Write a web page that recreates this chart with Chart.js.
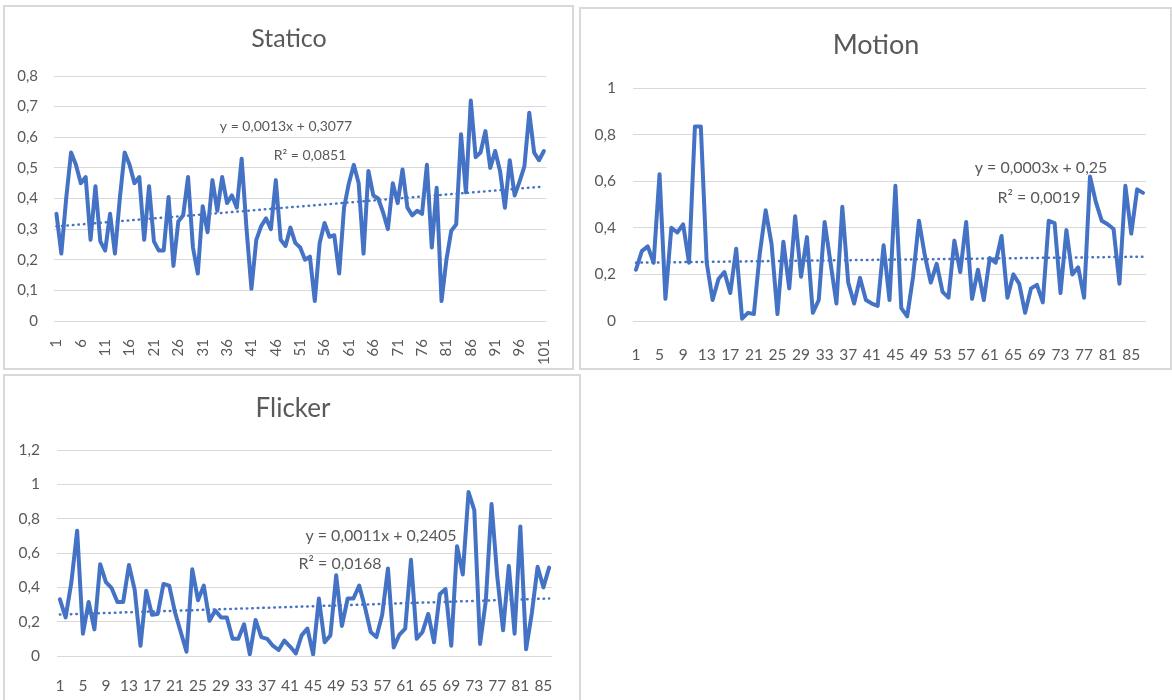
<!DOCTYPE html>
<html>
<head>
<meta charset="utf-8">
<script src="https://cdn.jsdelivr.net/npm/chart.js@4.4.1/dist/chart.umd.min.js"></script>
<style>
  html, body { margin: 0; padding: 0; background: #ffffff; width: 1172px; height: 700px; overflow: hidden; }
  .panel { position: absolute; box-sizing: border-box; border: 2px solid #d9d9d9; background: #ffffff; }
  .panel canvas { display: block; }
</style>
</head>
<body>
<div class="panel" style="left:3px; top:5px; width:571px; height:365px;"><canvas id="chartStatico" width="567" height="361"></canvas></div>
<div class="panel" style="left:579px; top:7px; width:593px; height:363px;"><canvas id="chartMotion" width="589" height="359"></canvas></div>
<div class="panel" style="left:3px; top:374px; width:578px; height:330px;"><canvas id="chartFlicker" width="574" height="326"></canvas></div>
<script>
// ---- Series values ----
const staticoValues = [
  0.35, 0.22, 0.40, 0.55, 0.51, 0.45, 0.47, 0.265, 0.44, 0.26,
  0.23, 0.35, 0.22, 0.40, 0.55, 0.51, 0.45, 0.47, 0.265, 0.44,
  0.26, 0.23, 0.23, 0.405, 0.18, 0.325, 0.345, 0.47, 0.24, 0.155,
  0.375, 0.29, 0.46, 0.36, 0.47, 0.385, 0.41, 0.37, 0.53, 0.30,
  0.105, 0.265, 0.31, 0.335, 0.30, 0.46, 0.265, 0.245, 0.305, 0.255,
  0.24, 0.20, 0.21, 0.065, 0.255, 0.32, 0.275, 0.28, 0.155, 0.37,
  0.45, 0.51, 0.45, 0.22, 0.49, 0.41, 0.40, 0.355, 0.30, 0.45,
  0.385, 0.495, 0.37, 0.345, 0.36, 0.35, 0.51, 0.24, 0.435, 0.065,
  0.20, 0.295, 0.315, 0.61, 0.42, 0.72, 0.535, 0.55, 0.62, 0.50,
  0.555, 0.49, 0.37, 0.525, 0.41, 0.455, 0.505, 0.68, 0.55, 0.525,
  0.555
];
const motionValues = [
  0.22, 0.30, 0.32, 0.25, 0.63, 0.095, 0.40, 0.38, 0.415, 0.25,
  0.835, 0.835, 0.25, 0.09, 0.18, 0.21, 0.12, 0.31, 0.01, 0.035,
  0.03, 0.29, 0.475, 0.33, 0.03, 0.34, 0.14, 0.45, 0.19, 0.36,
  0.035, 0.09, 0.425, 0.25, 0.075, 0.49, 0.165, 0.075, 0.185, 0.09,
  0.075, 0.065, 0.325, 0.09, 0.58, 0.055, 0.02, 0.19, 0.43, 0.28,
  0.165, 0.245, 0.125, 0.10, 0.345, 0.21, 0.425, 0.095, 0.22, 0.09,
  0.27, 0.25, 0.365, 0.10, 0.20, 0.16, 0.035, 0.14, 0.155, 0.08,
  0.43, 0.42, 0.12, 0.39, 0.20, 0.23, 0.10, 0.62, 0.51, 0.43,
  0.415, 0.395, 0.16, 0.58, 0.375, 0.565, 0.55
];
const flickerValues = [
  0.33, 0.225, 0.43, 0.73, 0.13, 0.315, 0.155, 0.535, 0.43, 0.395,
  0.315, 0.315, 0.53, 0.385, 0.06, 0.38, 0.24, 0.245, 0.42, 0.41,
  0.255, 0.14, 0.025, 0.505, 0.325, 0.41, 0.205, 0.265, 0.225, 0.225,
  0.10, 0.10, 0.185, 0.01, 0.21, 0.11, 0.10, 0.06, 0.035, 0.09,
  0.055, 0.015, 0.12, 0.16, 0.01, 0.335, 0.08, 0.12, 0.47, 0.175,
  0.335, 0.335, 0.41, 0.285, 0.14, 0.11, 0.24, 0.51, 0.05, 0.125,
  0.16, 0.56, 0.10, 0.14, 0.245, 0.08, 0.36, 0.39, 0.06, 0.64,
  0.475, 0.955, 0.85, 0.07, 0.32, 0.885, 0.46, 0.15, 0.525, 0.13,
  0.755, 0.04, 0.25, 0.52, 0.40, 0.515
];

// ---- Linear trend lines (slope, intercept) and R² ----
const staticoTrend = [0.0013, 0.3077];
const motionTrend = [0.0003, 0.25];
const flickerTrend = [0.0011, 0.2405];
const staticoR2 = 0.0851;
const motionR2 = 0.0019;
const flickerR2 = 0.0168;

// ---- Titles ----
const titles = ['Statico', 'Motion', 'Flicker'];

// ---- Category labels: 1..N ----
const categoriesFor = (values) => values.map((_, i) => String(i + 1));

const TEXT = '#595959';
const BLUE = '#4472C4';
const FONT = 'Lato, "Open Sans", sans-serif';

const dec = (v) => String(v).replace('.', ',');
const fmtTick = (v) => dec(Number(v.toFixed(1)));

// Title and trend-line equation drawn onto each chart canvas
const panelText = {
  id: 'panelText',
  afterDraw(chart, args, opts) {
    const ctx = chart.ctx;
    ctx.save();
    ctx.textAlign = 'center';
    ctx.textBaseline = 'middle';
    for (const t of opts.items || []) {
      ctx.font = t.font;
      ctx.fillStyle = TEXT;
      ctx.fillText(t.text, t.x, t.y);
    }
    ctx.restore();
  }
};

function makeChart(id, c) {
  const labels = categoriesFor(c.values);
  const trend = labels.map((_, i) => c.trend[0] * (i + 1) + c.trend[1]);
  return new Chart(document.getElementById(id), {
    type: 'line',
    data: {
      labels,
      datasets: [
        { data: c.values, borderColor: BLUE, borderWidth: 4, pointRadius: 0, tension: 0,
          borderJoinStyle: 'round', borderCapStyle: 'round', order: 1 },
        { data: trend, borderColor: BLUE, borderWidth: 2.5, borderDash: [0.5, 5],
          borderCapStyle: 'round', pointRadius: 0, tension: 0, order: 0 }
      ]
    },
    options: {
      responsive: false,
      animation: false,
      events: [],
      layout: { padding: { left: 0, right: c.padRight, top: c.padTop, bottom: 0 } },
      plugins: {
        legend: { display: false },
        tooltip: { enabled: false },
        title: { display: false },
        panelText: { items: [
          { text: c.title, x: c.titlePos[0], y: c.titlePos[1], font: c.titleSize + 'px ' + FONT },
          { text: 'y = ' + dec(c.trend[0]) + 'x + ' + dec(c.trend[1]), x: c.eqPos[0], y: c.eqPos[1], font: c.eqSize + 'px ' + FONT },
          { text: 'R² = ' + dec(c.r2), x: c.r2Pos[0], y: c.r2Pos[1], font: c.eqSize + 'px ' + FONT }
        ] }
      },
      scales: {
        x: {
          offset: true,
          grid: { display: false },
          border: { display: false },
          ticks: {
            autoSkip: false,
            maxRotation: c.rot, minRotation: c.rot,
            padding: c.xPad,
            color: TEXT,
            font: { family: FONT, size: c.tickSize },
            callback: (v, i) => (i % c.every === 0 ? labels[i] : '')
          },
          afterFit: (s) => { s.height = c.xHeight; }
        },
        y: {
          min: 0, max: c.max,
          ticks: { stepSize: c.step, padding: c.yPad, color: TEXT,
                   font: { family: FONT, size: c.tickSize }, callback: (v) => fmtTick(v) },
          grid: { color: '#d9d9d9', lineWidth: 1, drawTicks: false },
          border: { display: false },
          afterFit: (s) => { s.width = c.yWidth; }
        }
      }
    },
    plugins: [panelText]
  });
}

makeChart('chartStatico', {
  values: staticoValues, trend: staticoTrend, r2: staticoR2, title: titles[0],
  max: 0.8, step: 0.1, every: 5, rot: 90,
  yWidth: 49, padRight: 20, padTop: 69, xHeight: 47, xPad: 10, yPad: 16,
  tickSize: 15, titleSize: 25, eqSize: 14, 
  titlePos: [284, 32], eqPos: [281, 119], r2Pos: [305, 148]
});
makeChart('chartMotion', {
  values: motionValues, trend: motionTrend, r2: motionR2, title: titles[1],
  max: 1, step: 0.2, every: 4, rot: 0,
  yWidth: 52, padRight: 24, padTop: 79, xHeight: 47, xPad: 17, yPad: 17,
  tickSize: 15.5, titleSize: 27, eqSize: 16,
  titlePos: [295, 36], eqPos: [460, 159], r2Pos: [458, 189]
});
makeChart('chartFlicker', {
  values: flickerValues, trend: flickerTrend, r2: flickerR2, title: titles[2],
  max: 1.2, step: 0.2, every: 4, rot: 0,
  yWidth: 52, padRight: 27, padTop: 74, xHeight: 46, xPad: 13, yPad: 17,
  tickSize: 15.5, titleSize: 26, eqSize: 16,
  titlePos: [288, 33], eqPos: [376, 160], r2Pos: [335, 188]
});
</script>
</body>
</html>
